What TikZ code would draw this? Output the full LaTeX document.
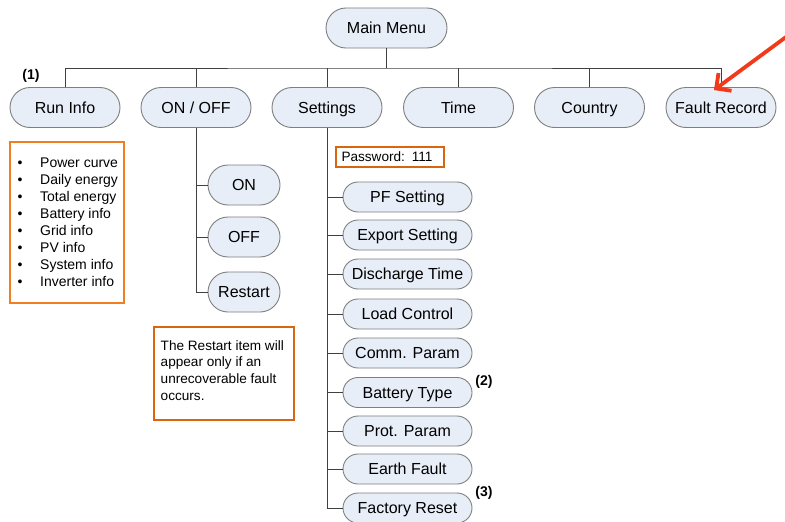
\documentclass[tikz,border=0pt]{standalone}
\usepackage{fontspec}
\setmainfont{Liberation Sans}
\usetikzlibrary{arrows.meta}
\definecolor{nodefill}{HTML}{E8EEF8}
\definecolor{nodeline}{HTML}{7F7F7F}
\definecolor{orangebox}{HTML}{F07E22}
\definecolor{orangedark}{HTML}{D8660E}
\definecolor{arrowred}{HTML}{F03A1A}
\tikzset{
  pill/.style={draw=nodeline, fill=nodefill, line width=0.9pt, minimum width=110pt, minimum height=40pt, rounded corners=20pt, inner sep=0pt, text height=11.6pt, text depth=0pt, font=\fontsize{16}{19}\selectfont},
  subpill/.style={pill, minimum width=72pt},
  setpill/.style={pill, minimum width=129pt, minimum height=30pt, rounded corners=15pt},
  wire/.style={draw=black!75, line width=0.8pt},
  tag/.style={font=\bfseries\fontsize{14}{16}\selectfont, inner sep=0pt},
  obox/.style={draw=orangebox, line width=2pt}
}
\begin{document}
\begin{tikzpicture}[x=1pt,y=-1pt]
\useasboundingbox[fill=white] (0,0) rectangle (785,522);
% top
\node[pill, minimum width=121pt] (main) at (386.5,28) {Main Menu};
\node[pill] (run) at (65,107.5) {Run Info};
\node[pill] (onoff) at (196,107.5) {ON / OFF};
\node[pill] (set) at (327,107.5) {Settings};
\node[pill] (time) at (458.5,107.5) {Time};
\node[pill] (country) at (589.5,107.5) {Country};
\node[pill] (fault) at (721,107.5) {Fault Record};
\coordinate (bus) at (386.5,68);
\draw[wire] (main.south) -- (bus);
\draw[wire] (run.north) |- (bus) -| (fault.north);
\foreach \n in {onoff,set,time,country}{\draw[wire] (\n.north) -- (\n.north |- bus);}
\node[tag] (t1) at (31,76) {(1)};
% run info box
\draw[obox] (10,142) rectangle (124,303);
\node[anchor=north west, inner sep=0pt, font=\fontsize{14}{17}\selectfont] (runlist) at (17.5,155) {%
\begin{tabular}{@{}p{22.5pt}@{}l@{}}
\textbullet & Power curve\\
\textbullet & Daily energy\\
\textbullet & Total energy\\
\textbullet & Battery info\\
\textbullet & Grid info\\
\textbullet & PV info\\
\textbullet & System info\\
\textbullet & Inverter info
\end{tabular}};
% on/off children
\node[subpill] (on) at (244,185) {ON};
\node[subpill] (off) at (244,237) {OFF};
\node[subpill] (restart) at (244,292) {Restart};
\draw[wire] (onoff.south) |- (restart.west);
\draw[wire] (on.west) -- (on.west -| onoff.south);
\draw[wire] (off.west) -- (off.west -| onoff.south);
% note
\draw[obox, draw=orangedark] (154,327) rectangle (294,420);
\node[anchor=north west, inner sep=0pt, align=left, font=\fontsize{13.6}{16.7}\selectfont] (note) at (160.5,340) {The Restart item will\\appear only if an\\unrecoverable fault\\occurs.};
% settings
\node[draw=orangedark, line width=2pt, minimum height=20pt, inner xsep=6pt, inner ysep=0pt, text width=96pt, align=left, font=\fontsize{13.6}{16}\selectfont] (pwd) at (389.5,156.5) {Password: 111};
\node[setpill] (pf) at (407.5,197) {PF Setting};
\node[setpill] (exp) at (407.5,235) {Export Setting};
\node[setpill] (dis) at (407.5,274) {Discharge Time};
\node[setpill] (load) at (407.5,314) {Load Control};
\node[setpill] (comm) at (407.5,353) {Comm. Param};
\node[setpill] (bat) at (407.5,392.5) {Battery Type};
\node[setpill] (prot) at (407.5,431) {Prot. Param};
\node[setpill] (earth) at (407.5,469) {Earth Fault};
\node[setpill] (fac) at (407.5,508) {Factory Reset};
\draw[wire] (set.south) |- (fac.west);
\foreach \n in {pf,exp,dis,load,comm,bat,prot,earth}{\draw[wire] (\n.west) -- (\n.west -| set.south);}
\node[tag] (t2) at (484,382) {(2)};
\node[tag] (t3) at (484,493) {(3)};
% red arrow
\coordinate (arrstart) at (786,37);
\coordinate (tip) at ([xshift=-7pt,yshift=-3pt]fault.north);
\draw[arrowred, line width=3.8pt, line cap=round, -{Straight Barb[length=11pt,width=22pt,line width=3.8pt]}] (arrstart) -- (tip);
\end{tikzpicture}
\end{document}
